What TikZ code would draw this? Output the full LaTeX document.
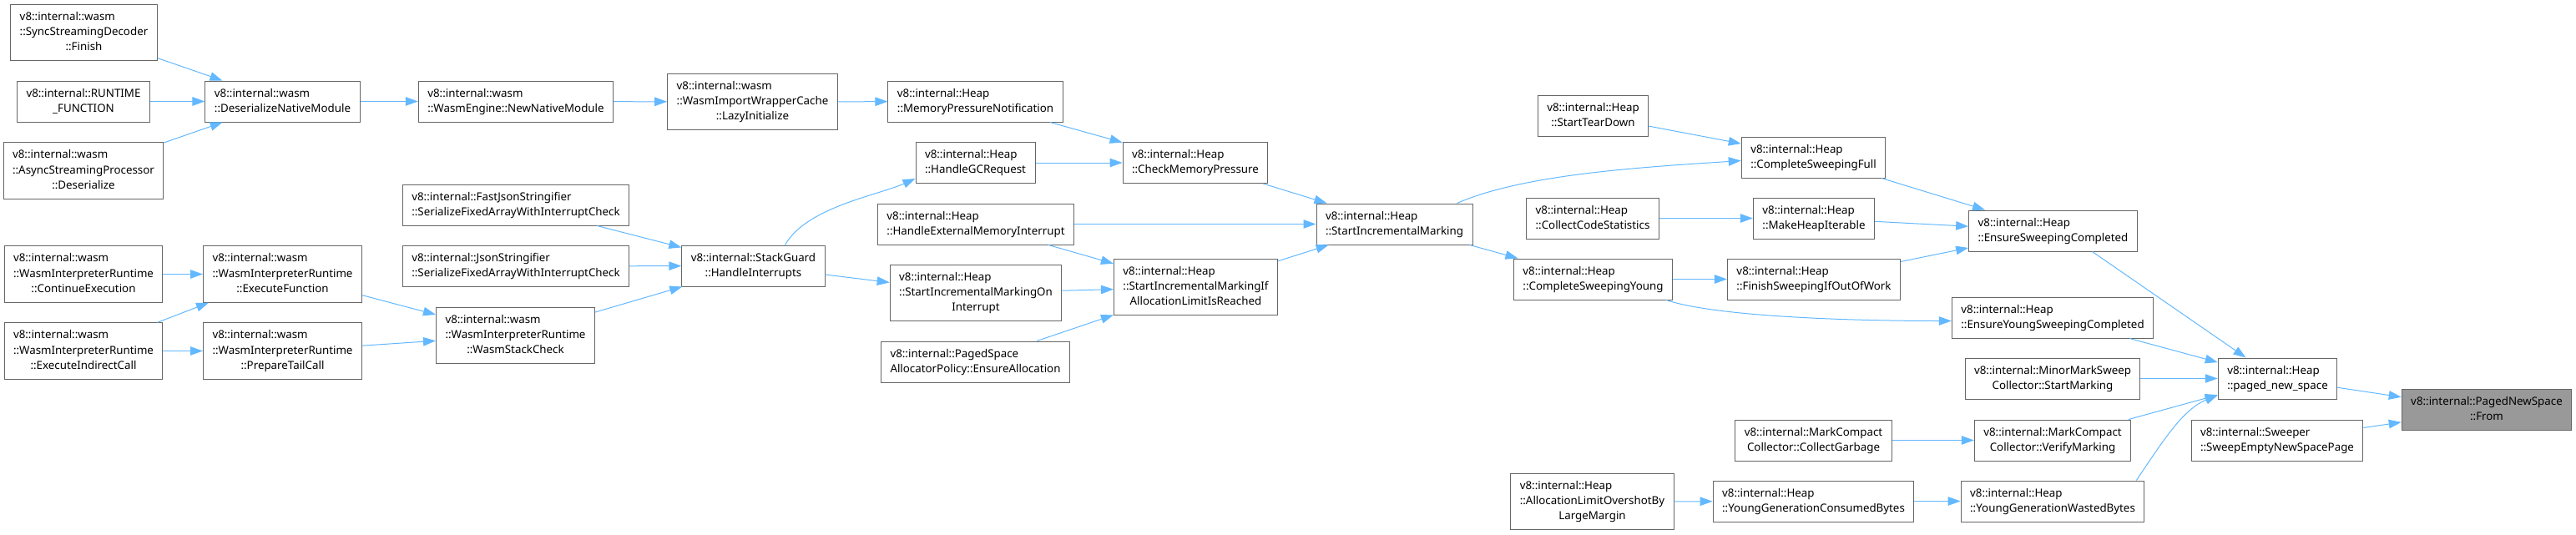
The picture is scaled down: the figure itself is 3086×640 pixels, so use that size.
\documentclass[tikz,border=0pt]{standalone}
\usepackage{fontspec}
\setmainfont{Noto Sans}
\usepackage{xcolor}
\usepackage{tikz}
\usetikzlibrary{arrows.meta}
\definecolor{edge}{HTML}{63B8FF}
\definecolor{frame}{HTML}{666666}
\definecolor{focus}{HTML}{999999}
\newcommand{\fnlabel}[2]{\begin{tabular}{@{}l@{}}#1\\\multicolumn{1}{@{}c@{}}{#2}\end{tabular}}

\begin{document}
\begin{tikzpicture}[
  x=1pt,y=-1pt,
  fn/.style={draw=frame,line width=1pt,fill=white,inner xsep=11pt,inner ysep=6.2pt,font=\fontsize{13.33}{18.3}\selectfont},
  hl/.style={fn,fill=focus},
  arr/.style={-{Triangle[length=15pt,width=10.5pt]},line width=1pt,draw=edge}
]
\useasboundingbox (0,0) rectangle (3086,640);
% wasm side
\node[fn] (sync) at (100.5,39) {\fnlabel{v8::internal::wasm\\::SyncStreamingDecoder}{::Finish}};
\node[fn] (rtf) at (100,121.5) {\fnlabel{v8::internal::RUNTIME}{\_FUNCTION}};
\node[fn] (async) at (100,204.5) {\fnlabel{v8::internal::wasm\\::AsyncStreamingProcessor}{::Deserialize}};
\node[fn] (dnm) at (338.5,121.5) {\fnlabel{v8::internal::wasm}{::DeserializeNativeModule}};
\node[fn] (nnm) at (618,121.5) {\fnlabel{v8::internal::wasm}{::WasmEngine::NewNativeModule}};
\node[fn] (wiwc) at (901.5,122) {\fnlabel{v8::internal::wasm\\::WasmImportWrapperCache}{::LazyInitialize}};
\node[fn] (ce) at (100,328.5) {\fnlabel{v8::internal::wasm\\::WasmInterpreterRuntime}{::ContinueExecution}};
\node[fn] (ef) at (338.5,328.5) {\fnlabel{v8::internal::wasm\\::WasmInterpreterRuntime}{::ExecuteFunction}};
\node[fn] (eic) at (100,420.5) {\fnlabel{v8::internal::wasm\\::WasmInterpreterRuntime}{::ExecuteIndirectCall}};
\node[fn] (ptc) at (338.5,420.5) {\fnlabel{v8::internal::wasm\\::WasmInterpreterRuntime}{::PrepareTailCall}};
\node[fn] (wsc) at (617.5,402) {\fnlabel{v8::internal::wasm\\::WasmInterpreterRuntime}{::WasmStackCheck}};
\node[fn] (fjs) at (618,245.5) {\fnlabel{v8::internal::FastJsonStringifier}{::SerializeFixedArrayWithInterruptCheck}};
\node[fn] (js) at (618,319) {\fnlabel{v8::internal::JsonStringifier}{::SerializeFixedArrayWithInterruptCheck}};
\node[fn] (hi) at (902.5,318.5) {\fnlabel{v8::internal::StackGuard}{::HandleInterrupts}};
% heap side
\node[fn] (mpn) at (1168.5,121.5) {\fnlabel{v8::internal::Heap}{::MemoryPressureNotification}};
\node[fn] (gcr) at (1168.5,195) {\fnlabel{v8::internal::Heap}{::HandleGCRequest}};
\node[fn] (cmp) at (1432,195) {\fnlabel{v8::internal::Heap}{::CheckMemoryPressure}};
\node[fn] (hemi) at (1169,268.5) {\fnlabel{v8::internal::Heap}{::HandleExternalMemoryInterrupt}};
\node[fn] (simoi) at (1169,351) {\fnlabel{v8::internal::Heap\\::StartIncrementalMarkingOn}{Interrupt}};
\node[fn] (simif) at (1432.5,344) {\fnlabel{v8::internal::Heap\\::StartIncrementalMarkingIf}{AllocationLimitIsReached}};
\node[fn] (psap) at (1168.5,433.5) {\fnlabel{v8::internal::PagedSpace}{AllocatorPolicy::EnsureAllocation}};
\node[fn] (sim) at (1670.5,268.5) {\fnlabel{v8::internal::Heap}{::StartIncrementalMarking}};
\node[fn] (std) at (1908.5,138.5) {\fnlabel{v8::internal::Heap}{::StartTearDown}};
\node[fn] (ccs) at (1908,261.5) {\fnlabel{v8::internal::Heap}{::CollectCodeStatistics}};
\node[fn] (csy) at (1908.5,334.5) {\fnlabel{v8::internal::Heap}{::CompleteSweepingYoung}};
\node[fn] (alo) at (1907.5,601) {\fnlabel{v8::internal::Heap\\::AllocationLimitOvershotBy}{LargeMargin}};
\node[fn] (csf) at (2172.5,188.5) {\fnlabel{v8::internal::Heap}{::CompleteSweepingFull}};
\node[fn] (mhi) at (2173,261.5) {\fnlabel{v8::internal::Heap}{::MakeHeapIterable}};
\node[fn] (fsw) at (2173,334.5) {\fnlabel{v8::internal::Heap}{::FinishSweepingIfOutOfWork}};
\node[fn] (cg) at (2172.5,527.5) {\fnlabel{v8::internal::MarkCompact}{Collector::CollectGarbage}};
\node[fn] (ygcb) at (2172.5,600.5) {\fnlabel{v8::internal::Heap}{::YoungGenerationConsumedBytes}};
\node[fn] (esc) at (2459.5,276.5) {\fnlabel{v8::internal::Heap}{::EnsureSweepingCompleted}};
\node[fn] (eysc) at (2459,380.5) {\fnlabel{v8::internal::Heap}{::EnsureYoungSweepingCompleted}};
\node[fn] (mms) at (2459,453.5) {\fnlabel{v8::internal::MinorMarkSweep}{Collector::StartMarking}};
\node[fn] (vm) at (2459,527.5) {\fnlabel{v8::internal::MarkCompact}{Collector::VerifyMarking}};
\node[fn] (ygwb) at (2459,600.5) {\fnlabel{v8::internal::Heap}{::YoungGenerationWastedBytes}};
\node[fn] (pns) at (2728.5,453.5) {\fnlabel{v8::internal::Heap}{::paged\_new\_space}};
\node[fn] (swp) at (2728,527.5) {\fnlabel{v8::internal::Sweeper}{::SweepEmptyNewSpacePage}};
\node[hl] (from) at (2979,491) {\fnlabel{v8::internal::PagedNewSpace}{::From}};
% calls
\draw[arr] (sync)--(dnm);
\draw[arr] (rtf)--(dnm);
\draw[arr] (async)--(dnm);
\draw[arr] (dnm)--(nnm);
\draw[arr] (nnm)--(wiwc);
\draw[arr] (wiwc)--(mpn);
\draw[arr] (ce)--(ef);
\draw[arr] (eic)--(ef);
\draw[arr] (eic)--(ptc);
\draw[arr] (ef)--(wsc);
\draw[arr] (ptc)--(wsc);
\draw[arr] (fjs)--(hi);
\draw[arr] (js)--(hi);
\draw[arr] (wsc)--(hi);
\draw[arr] ([xshift=38pt]hi.north) .. controls +(25,-45) and +(-45,20) .. ([yshift=-19pt]gcr.west);
\draw[arr] (hi)--(simoi);
\draw[arr] (mpn)--(cmp);
\draw[arr] (gcr)--(cmp);
\draw[arr] (cmp)--(sim);
\draw[arr] (hemi)--(sim);
\draw[arr] (hemi)--(simif);
\draw[arr] (simoi)--(simif);
\draw[arr] (psap)--(simif);
\draw[arr] (simif)--(sim);
\draw[arr] ([xshift=75pt]sim.north) .. controls +(80,-35) and +(-120,8) .. ([yshift=-4pt]csf.west);
\draw[arr] (sim)--(csy);
\draw[arr] (std)--(csf);
\draw[arr] (csf)--(esc);
\draw[arr] (ccs)--(mhi);
\draw[arr] (mhi)--(esc);
\draw[arr] (csy)--(fsw);
\draw[arr] (fsw)--(esc);
\draw[arr] ([xshift=-8pt]csy.south east) .. controls +(60,20) and +(-120,0) .. ([yshift=-4pt]eysc.west);
\draw[arr] ([xshift=47pt]esc.south) -- ([xshift=-38pt]pns.north);
\draw[arr] (eysc)--(pns);
\draw[arr] (mms)--(pns);
\draw[arr] (vm)--(pns);
\draw[arr] ([xshift=-10pt]ygwb.north east) .. controls +(31,-46) and +(-42,17) .. ([yshift=5pt]pns.south west);
\draw[arr] (cg)--(vm);
\draw[arr] (alo)--(ygcb);
\draw[arr] (ygcb)--(ygwb);
\draw[arr] (pns)--(from);
\draw[arr] (swp)--(from);
\end{tikzpicture}
\end{document}
